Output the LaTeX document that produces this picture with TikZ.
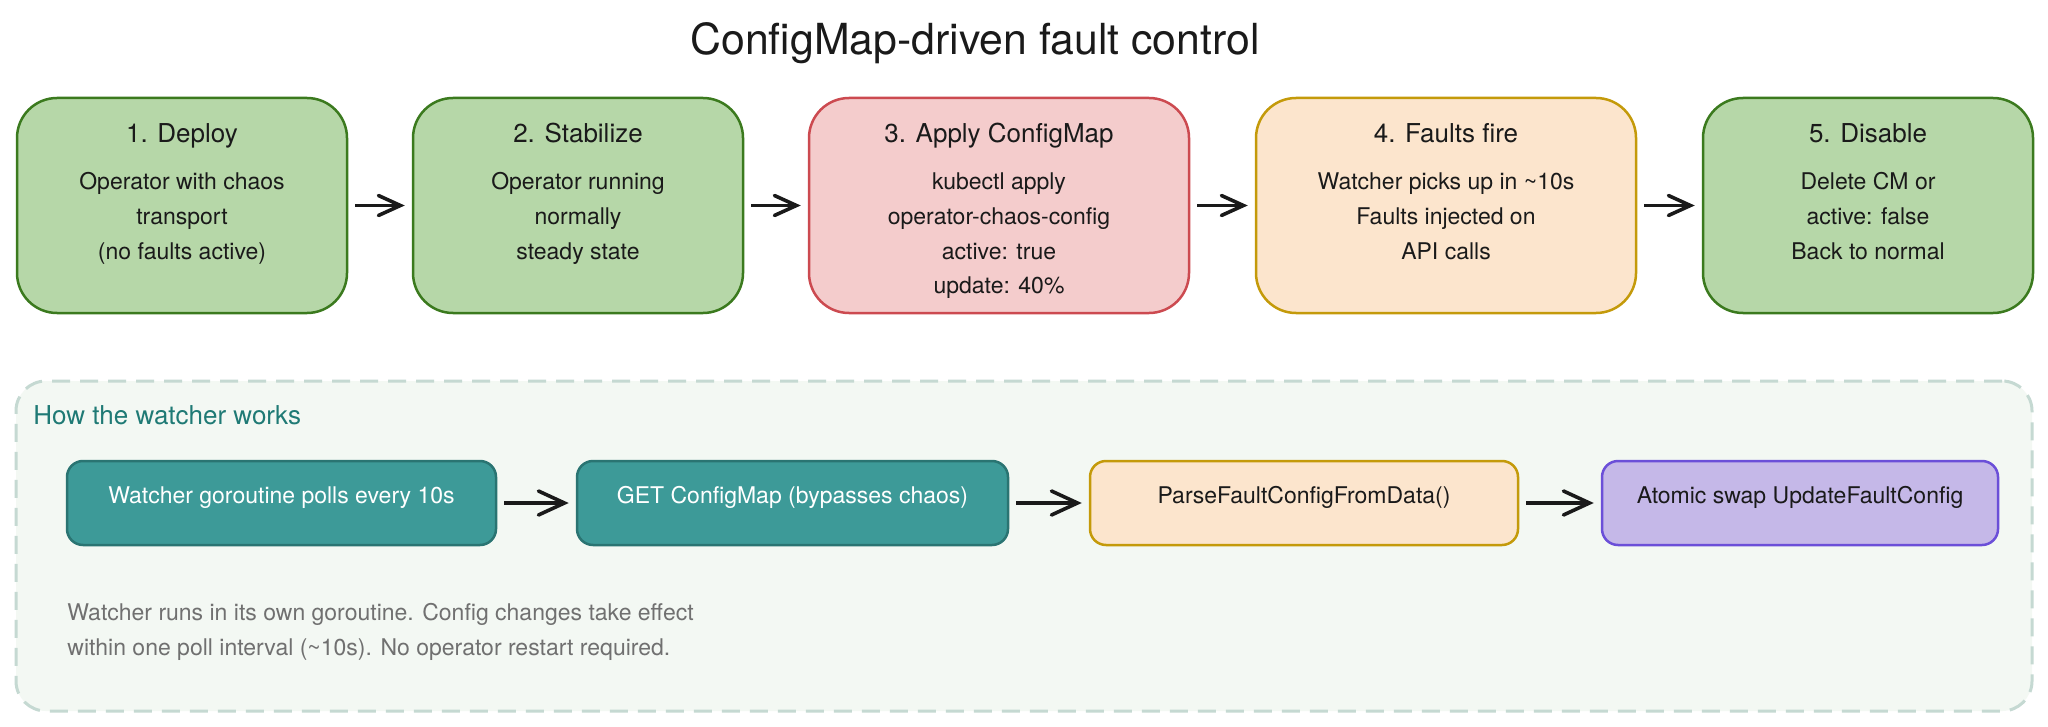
\documentclass[tikz,border=0pt]{standalone}
\usepackage{fontspec}
\setmainfont{TeX Gyre Heros}
\usetikzlibrary{arrows.meta}
\definecolor{gfill}{HTML}{B6D7A8}
\definecolor{gdraw}{HTML}{3B7A1E}
\definecolor{rfill}{HTML}{F4CCCC}
\definecolor{rdraw}{HTML}{CC4A50}
\definecolor{ofill}{HTML}{FCE5CD}
\definecolor{odraw}{HTML}{C49A0A}
\definecolor{tfill}{HTML}{3D9A98}
\definecolor{tdraw}{HTML}{2A7472}
\definecolor{pfill}{HTML}{C5B8E8}
\definecolor{pdraw}{HTML}{6B4FD8}
\definecolor{cfill}{HTML}{F3F8F3}
\definecolor{cdraw}{HTML}{C5D9D2}
\definecolor{lbl}{HTML}{1F7A75}
\definecolor{note}{HTML}{707070}
\definecolor{txt}{HTML}{1A1A1A}
\tikzset{
  stepbox/.style={draw, line width=1.25pt, rounded corners=20pt, inner sep=0pt,
    minimum width=165pt, minimum height=107.5pt},
  widebox/.style={stepbox, minimum width=190pt},
  greenbox/.style={fill=gfill, draw=gdraw},
  redbox/.style={fill=rfill, draw=rdraw},
  orangebox/.style={fill=ofill, draw=odraw},
  smallbox/.style={draw, line width=1.25pt, rounded corners=8pt, inner sep=0pt,
    minimum height=42pt},
  headtxt/.style={font=\fontsize{13}{15}\selectfont, text=txt, anchor=base, inner sep=0pt},
  bodytxt/.style={font=\fontsize{11.5}{14}\selectfont, text=txt, anchor=base, inner sep=0pt},
  flow/.style={draw=txt, line width=1.8pt, shorten >=3.5pt, shorten <=3.5pt,
    -{Straight Barb[length=11pt,width=10pt,line cap=round]}},
  flowb/.style={flow, -{Straight Barb[length=13pt,width=12pt,line cap=round]}},
}
\begin{document}
\begin{tikzpicture}[x=0.5pt,y=-0.5pt]
\useasboundingbox[fill=white] (0,0) rectangle (2048,727);

% title
\node[font=\fontsize{21.4}{25}\selectfont, text=txt, anchor=base, inner sep=0pt] (title) at (975,55) {ConfigMap-driven fault control};

% container
\node[draw=cdraw, fill=cfill, line width=1.5pt, dash pattern=on 9pt off 5pt,
  rounded corners=15pt, minimum width=1008pt, minimum height=165pt, inner sep=0pt] (cont) at (1024,546) {};
\node[font=\fontsize{13}{15}\selectfont, text=lbl, anchor=base west, inner sep=0pt] (contlbl) at (33,424) {How the watcher works};

% top boxes
\node[stepbox, greenbox] (b1) at (182,205.5) {};
\node[stepbox, greenbox] (b2) at (578,205.5) {};
\node[widebox, redbox] (b3) at (999,205.5) {};
\node[widebox, orangebox] (b4) at (1446,205.5) {};
\node[stepbox, greenbox] (b5) at (1868,205.5) {};

\node[headtxt] (b1h) at (182,143) {1. Deploy};
\node[bodytxt] (b1a) at (182,190) {Operator with chaos};
\node[bodytxt] (b1b) at (182,224.5) {transport};
\node[bodytxt] (b1c) at (182,259) {(no faults active)};

\node[headtxt] (b2h) at (578,143) {2. Stabilize};
\node[bodytxt] (b2a) at (578,190) {Operator running};
\node[bodytxt] (b2b) at (578,224.5) {normally};
\node[bodytxt] (b2c) at (578,259) {steady state};

\node[headtxt] (b3h) at (999,143) {3. Apply ConfigMap};
\node[bodytxt] (b3a) at (999,190) {kubectl apply};
\node[bodytxt] (b3b) at (999,224.5) {operator-chaos-config};
\node[bodytxt] (b3c) at (999,259) {active: true};
\node[bodytxt] (b3d) at (999,293.5) {update: 40\%};

\node[headtxt] (b4h) at (1446,143) {4. Faults fire};
\node[bodytxt] (b4a) at (1446,190) {Watcher picks up in \textasciitilde 10s};
\node[bodytxt] (b4b) at (1446,224.5) {Faults injected on};
\node[bodytxt] (b4c) at (1446,259) {API calls};

\node[headtxt] (b5h) at (1868,143) {5. Disable};
\node[bodytxt] (b5a) at (1868,190) {Delete CM or};
\node[bodytxt] (b5b) at (1868,224.5) {active: false};
\node[bodytxt] (b5c) at (1868,259) {Back to normal};

\draw[flow] (b1.east) -- (b2.west);
\draw[flow] (b2.east) -- (b3.west);
\draw[flow] (b3.east) -- (b4.west);
\draw[flow] (b4.east) -- (b5.west);

% lower boxes
\node[smallbox, fill=tfill, draw=tdraw, minimum width=214.5pt] (w1) at (281.5,503) {};
\node[smallbox, fill=tfill, draw=tdraw, minimum width=215.5pt] (w2) at (792.5,503) {};
\node[smallbox, fill=ofill, draw=odraw, minimum width=214pt] (w3) at (1304,503) {};
\node[smallbox, fill=pfill, draw=pdraw, minimum width=198pt] (w4) at (1800,503) {};

\node[bodytxt, text=white] (w1t) at (281.5,503) {Watcher goroutine polls every 10s};
\node[bodytxt, text=white] (w2t) at (792.5,503) {GET ConfigMap (bypasses chaos)};
\node[bodytxt] (w3t) at (1304,503) {ParseFaultConfigFromData()};
\node[bodytxt] (w4t) at (1800,503) {Atomic swap UpdateFaultConfig};

\draw[flowb] (w1.east) -- (w2.west);
\draw[flowb] (w2.east) -- (w3.west);
\draw[flowb] (w3.east) -- (w4.west);

% note
\node[bodytxt, text=note, anchor=base west] (n1) at (67,620) {Watcher runs in its own goroutine. Config changes take effect};
\node[bodytxt, text=note, anchor=base west] (n2) at (67,655) {within one poll interval (\textasciitilde 10s). No operator restart required.};
\end{tikzpicture}
\end{document}
